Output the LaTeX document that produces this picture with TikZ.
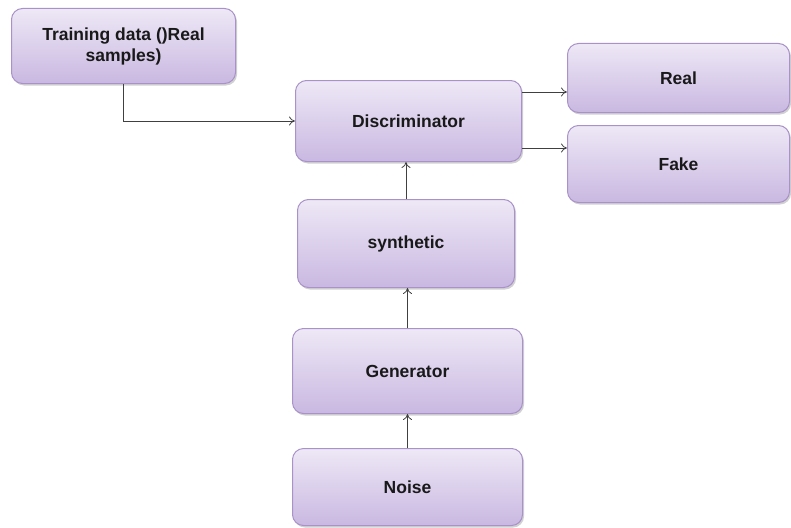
\documentclass[tikz,border=0pt]{standalone}
\usepackage{fontspec}
\setmainfont{Liberation Sans}
\usetikzlibrary{arrows.meta,shadows}
\definecolor{boxtop}{HTML}{EEE8F6}
\definecolor{boxbot}{HTML}{C9B8E1}
\definecolor{boxline}{HTML}{A892C9}
\definecolor{wire}{HTML}{404040}
\tikzset{
  blk/.style={rectangle,rounded corners=11pt,draw=boxline,line width=1pt,
    top color=boxtop,bottom color=boxbot,text=black!90,align=center,inner sep=0pt,
    font=\fontsize{17.5}{21}\selectfont\bfseries,
    drop shadow={shadow xshift=1.5pt,shadow yshift=-2pt,opacity=0.3,fill=black!60}},% block
  flow/.style={-{To[length=6pt,width=9pt]},wire,line width=0.8pt},
}
\begin{document}
\begin{tikzpicture}[x=1pt,y=-1pt]
  \useasboundingbox (0,0) rectangle (791,527);
  % blocks
  \node[blk,minimum width=224pt,minimum height=75pt] (train) at (123.5,46) {Training data ()Real\\samples)};
  \node[blk,minimum width=226pt,minimum height=81pt] (disc) at (408.5,121) {Discriminator};
  \node[blk,minimum width=222pt,minimum height=69pt] (real) at (678.5,78) {Real};
  \node[blk,minimum width=222pt,minimum height=77pt] (fake) at (678.5,164) {Fake};
  \node[blk,minimum width=217pt,minimum height=88pt] (synth) at (406,243.5) {synthetic};
  \node[blk,minimum width=230pt,minimum height=85pt] (gen) at (407.5,371) {Generator};
  \node[blk,minimum width=230pt,minimum height=77pt] (noise) at (407.5,487) {Noise};
  % connectors
  \draw[flow] (train.south) |- (disc.west);
  \coordinate (dr) at ([yshift=29pt]disc.east);
  \coordinate (df) at ([yshift=-27pt]disc.east);
  \draw[flow] (dr) -- (dr -| real.west);
  \draw[flow] (df) -- (df -| fake.west);
  \draw[flow] (synth.north) -- (synth.north |- disc.south);
  \draw[flow] (gen.north) -- (gen.north |- synth.south);
  \draw[flow] (noise.north) -- (gen.south);
\end{tikzpicture}
\end{document}
